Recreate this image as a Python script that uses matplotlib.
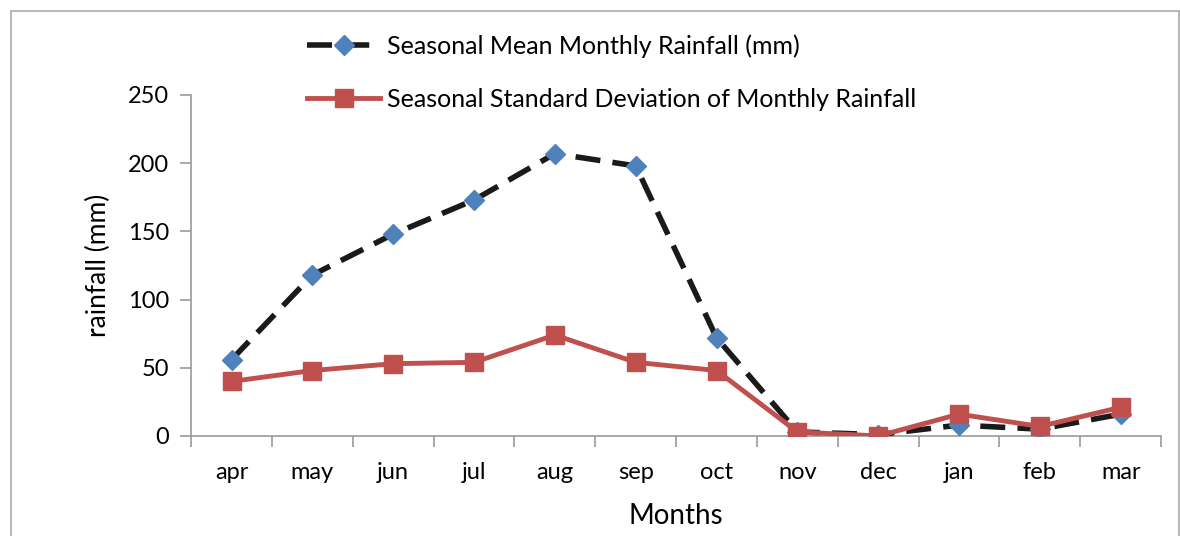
import matplotlib.pyplot as plt
from matplotlib.patches import Rectangle

plt.rcParams['font.family'] = ['Lato', 'DejaVu Sans']

months = ['apr', 'may', 'jun', 'jul', 'aug', 'sep', 'oct', 'nov', 'dec', 'jan', 'feb', 'mar']
mean_rain = [56, 118, 148, 173, 207, 198, 72, 3, 1, 8, 5, 16]
std_rain = [40, 48, 53, 54, 74, 54, 48, 3, 0, 16, 7, 21]

fig = plt.figure(figsize=(11.8, 5.36), dpi=100)
ax = fig.add_axes([0.162, 0.1866, 0.822, 0.6362])

x = range(len(months))
ax.plot(x, mean_rain, color='#1a1a1a', lw=4, dashes=(4.5, 2.2),
        marker='D', ms=10, mfc='#4F81BD', mec='#4F81BD',
        label='Seasonal Mean Monthly Rainfall (mm)', zorder=3)
ax.plot(x, std_rain, color='#C0504D', lw=3.5,
        marker='s', ms=13, mfc='#C0504D', mec='#C0504D',
        label='Seasonal Standard Deviation of Monthly Rainfall', zorder=4)

ax.set_xlim(-0.5, len(months) - 0.5)
ax.set_ylim(0, 250)
ax.set_yticks([0, 50, 100, 150, 200, 250])
ax.set_xticks(list(x))
ax.set_xticklabels(months)
ax.set_xticks([i - 0.5 for i in range(len(months) + 1)], minor=True)
ax.tick_params(axis='x', which='major', length=0, pad=19, labelsize=17)
ax.tick_params(axis='x', which='minor', length=8, width=1.2, color='#999999', direction='out')
ax.tick_params(axis='y', length=8, width=1.2, color='#999999', labelsize=17, pad=8)

for side in ['top', 'right']:
    ax.spines[side].set_visible(False)
for side in ['left', 'bottom']:
    ax.spines[side].set_color('#999999')
    ax.spines[side].set_linewidth(1.2)

ax.set_xlabel('Months', fontsize=20, labelpad=14)
ax.set_ylabel('rainfall (mm)', fontsize=19, labelpad=12)

ax.legend(loc='upper left', bbox_to_anchor=(0.252, 0.955), bbox_transform=fig.transFigure,
          frameon=False, fontsize=18, handlelength=2.9, handletextpad=0.3,
          labelspacing=1.2, borderaxespad=0)

# outer chart border
fig.patches.append(Rectangle((0.009, -0.02), 0.99, 1.0, transform=fig.transFigure,
                             fill=False, edgecolor='#aaaaaa', lw=1.2))

fig.savefig('out.png', dpi=100)
